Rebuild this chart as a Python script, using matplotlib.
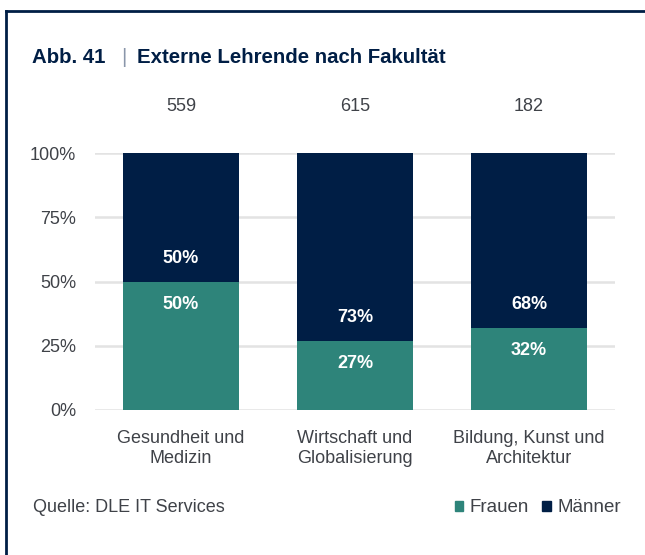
import matplotlib.pyplot as plt
import matplotlib.patches as mpatches
from matplotlib.lines import Line2D

# Anteile in Prozent je Fakultät
faculties = ["Gesundheit und\nMedizin", "Wirtschaft und\nGlobalisierung", "Bildung, Kunst und\nArchitektur"]
totals = [559, 615, 182]
frauen = [50, 27, 32]
maenner = [50, 73, 68]

TEAL = "#2e847a"
NAVY = "#001e45"
GREY = "#3f4248"

plt.rcParams["font.family"] = ["Liberation Sans", "DejaVu Sans"]

fig = plt.figure(figsize=[6.45, 5.55], dpi=100)
W, H = 645, 555
ax = fig.add_axes([95 / W, 1 - 410 / H, 520 / W, 257 / H])

x = list(range(len(faculties)))
ax.bar(x, frauen, width=0.667, color=TEAL, zorder=3)
ax.bar(x, maenner, width=0.667, bottom=frauen, color=NAVY, zorder=3)

for i in x:
    ax.text(i, frauen[i] - 9, f"{frauen[i]}%", ha="center", va="center",
            color="white", fontsize=13, fontweight="bold", zorder=4)
    ax.text(i, frauen[i] + 9, f"{maenner[i]}%", ha="center", va="center",
            color="white", fontsize=13, fontweight="bold", zorder=4)
    ax.text(i, 118, str(totals[i]), ha="center", va="center", color=GREY, fontsize=13)

ax.set_xlim(-0.494, 2.494)
ax.set_ylim(0, 100)
ax.set_yticks([0, 25, 50, 75, 100])
ax.set_yticklabels(["0%", "25%", "50%", "75%", "100%"])
ax.yaxis.grid(True, color="#e3e3e3", linewidth=1.8, zorder=0)
ax.set_xticks(x)
ax.set_xticklabels(faculties, linespacing=1.25)
ax.tick_params(axis="both", length=0, labelsize=13, labelcolor=GREY)
ax.tick_params(axis="y", pad=13.5)
ax.tick_params(axis="x", pad=14.5)
for s in ax.spines.values():
    s.set_visible(False)

# Titel
ty = 1 - 57 / H
fig.text(32 / W, ty, "Abb. 41", ha="left", va="center",
         fontsize=14.7, fontweight="bold", color=NAVY)
fig.text(124 / W, ty, "|", ha="center", va="center",
         fontsize=14.7, fontweight="light", color="#8a96aa")
fig.text(137 / W, ty, "Externe Lehrende nach Fakultät", ha="left", va="center",
         fontsize=14.7, fontweight="bold", color=NAVY)

fig.text(33 / W, 1 - 508 / H, "Quelle: DLE IT Services", ha="left", va="center",
         fontsize=13, color=GREY)

# Legende
handles = [mpatches.Patch(color=TEAL, label="Frauen"),
           mpatches.Patch(color=NAVY, label="Männer")]
fig.legend(handles=handles, loc="center right", bbox_to_anchor=(621 / W, 1 - 508 / H),
           ncol=2, frameon=False, fontsize=13.5, handlelength=0.45, handleheight=0.45,
           handletextpad=0.35, columnspacing=0.7, labelcolor=GREY, borderaxespad=0,
           borderpad=0)

# Rahmen links und oben
fig.add_artist(Line2D([5.5 / W, 5.5 / W], [0, 1 - 10.5 / H], color=NAVY, linewidth=2))
fig.add_artist(Line2D([5.5 / W, 1], [1 - 10.5 / H, 1 - 10.5 / H], color=NAVY, linewidth=2))

fig.savefig("out.png", dpi=100)
